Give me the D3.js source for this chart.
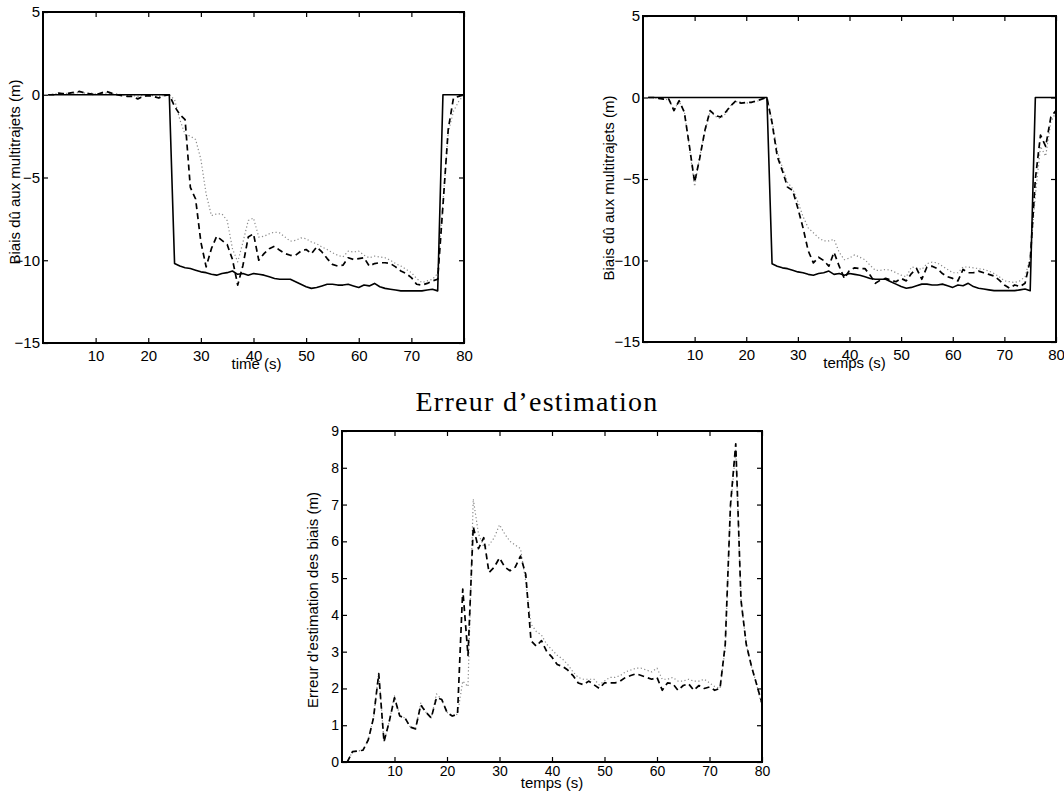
<!DOCTYPE html>
<html>
<head>
<meta charset="utf-8">
<script src="https://cdn.jsdelivr.net/npm/d3@7"></script>
<style>
  body { margin: 0; background: #fff; }
  svg text { font-family: "Liberation Sans", Arial, Helvetica, sans-serif; }
</style>
</head>
<body>
<div id="chart"></div>
<script>
// time axis (s)
const seconds = d3.range(1, 81);
const xTicks = [10, 20, 30, 40, 50, 60, 70, 80];
const biasTicks = [-15, -10, -5, 0, 5];
const errTicks = [0, 1, 2, 3, 4, 5, 6, 7, 8, 9];

// true multipath bias (solid), same in both upper plots
const trueBias = [
  0, 0, 0, 0, 0, 0, 0, 0, 0, 0,
  0, 0, 0, 0, 0, 0, 0, 0, 0, 0,
  0, 0, 0, 0, -10.2, -10.35, -10.45, -10.5, -10.6, -10.7,
  -10.75, -10.85, -10.9, -10.8, -10.75, -10.65, -10.85, -10.8, -10.9, -10.8,
  -10.85, -10.9, -11.0, -11.1, -11.15, -11.15, -11.15, -11.3, -11.45, -11.6,
  -11.7, -11.65, -11.55, -11.45, -11.45, -11.5, -11.5, -11.45, -11.55, -11.65,
  -11.5, -11.55, -11.4, -11.6, -11.7, -11.75, -11.8, -11.85, -11.85, -11.85,
  -11.85, -11.85, -11.8, -11.75, -11.85, 0, 0, 0, 0, 0
];

// upper left plot, estimates
const leftDashed = [
  0, 0, 0.1, 0.05, 0.1, 0.15, 0.2, 0.1, 0.05, 0,
  0.1, 0.2, 0.1, 0, -0.05, -0.1, -0.1, -0.25, -0.1, -0.05,
  -0.1, -0.2, -0.05, 0, -0.7, -1.2, -1.5, -5.6, -6.3, -8.9,
  -10.4, -9.3, -8.55, -8.8, -9.05, -9.95, -11.5, -10.3, -8.6, -8.4,
  -10.0, -9.6, -9.3, -9.15, -9.4, -9.6, -9.7, -9.7, -9.45, -9.35,
  -9.6, -9.2, -9.5, -9.9, -10.25, -10.35, -10.3, -9.85, -9.95, -9.9,
  -9.85, -10.35, -10.2, -10.15, -10.15, -10.2, -10.4, -10.65, -10.8, -11.05,
  -11.45, -11.5, -11.4, -11.25, -11.15, -6.7, -2.1, -0.2, -0.1, 0
];
const leftDotted = [
  0, 0.05, 0.05, 0.1, 0.05, 0.1, 0.15, 0.1, 0.1, 0.05,
  0.05, 0.1, 0.05, 0.05, 0, -0.05, -0.05, -0.1, -0.05, -0.05,
  -0.05, -0.1, -0.05, 0, -0.3, -1.5, -2.4, -2.5, -2.7, -3.9,
  -6.0, -7.3, -7.2, -7.2, -7.6, -9.3, -10.1, -8.9, -7.6, -7.45,
  -8.6, -8.55, -8.4, -8.3, -8.35, -8.6, -8.85, -8.8, -8.65, -8.7,
  -8.9, -9.0, -9.2, -9.35, -9.55, -9.7, -9.8, -9.45, -9.5, -9.45,
  -9.7, -9.85, -9.75, -9.8, -9.85, -10.0, -10.2, -10.35, -10.55, -10.75,
  -11.1, -11.35, -11.25, -11.15, -10.8, -6.5, -2.3, -1.0, -0.4, 0
];

// upper right plot, estimates
const rightDashed = [
  0, 0, -0.05, -0.1, -0.1, -0.8, -0.2, -0.9, -3.0, -5.2,
  -3.7, -2.0, -0.8, -1.1, -1.2, -0.9, -0.5, -0.2, -0.35, -0.3,
  -0.3, -0.2, -0.1, 0, -1.55, -3.6, -4.5, -5.5, -5.7, -6.8,
  -8.0, -9.4, -10.15, -9.8, -10.0, -10.35, -9.5, -10.35, -11.1, -10.6,
  -10.45, -10.5, -10.5, -10.9, -11.4, -11.2, -11.1, -11.2, -11.3, -11.1,
  -11.25, -10.8, -10.5, -11.15, -10.4, -10.35, -10.5, -10.8, -11.0, -11.1,
  -11.25, -10.55, -10.75, -10.75, -10.65, -10.75, -10.85, -10.95, -11.2, -11.5,
  -11.7, -11.5, -11.6, -11.4, -10.0, -5.0, -2.3, -3.0, -1.2, -0.8
];
const rightDotted = [
  0, 0, -0.05, -0.1, -0.15, -0.75, -0.25, -0.85, -3.1, -5.45,
  -3.6, -2.1, -0.85, -1.15, -1.3, -1.0, -0.5, -0.25, -0.3, -0.35,
  -0.3, -0.25, -0.1, 0, -1.4, -3.3, -4.3, -5.2, -5.6, -6.4,
  -7.3, -8.0, -8.3, -8.6, -8.8, -8.8, -8.7, -9.5, -9.95, -9.85,
  -9.65, -9.8, -9.95, -10.3, -10.6, -10.6, -10.55, -10.6, -10.75, -10.9,
  -11.0, -10.4, -10.45, -10.55, -10.2, -10.1, -10.15, -10.35, -10.55, -10.75,
  -10.75, -10.4, -10.4, -10.45, -10.5, -10.55, -10.65, -10.8, -11.0, -11.25,
  -11.3, -11.35, -11.25, -11.0, -9.8, -6.0, -3.0, -3.6, -1.5, -0.9
];

// lower plot, estimation error
const errDashed = [
  0.0, 0.28, 0.3, 0.32, 0.6, 1.2, 2.4, 0.55, 1.1, 1.75,
  1.25, 1.2, 0.95, 0.9, 1.55, 1.35, 1.2, 1.75, 1.7, 1.35,
  1.25, 1.3, 4.7, 2.9, 6.4, 5.8, 6.1, 5.15, 5.3, 5.55,
  5.3, 5.2, 5.3, 5.6, 5.1, 3.3, 3.15, 3.3, 3.0, 2.85,
  2.65, 2.6, 2.5, 2.35, 2.15, 2.1, 2.2, 2.1, 2.0, 2.15,
  2.15, 2.15, 2.2, 2.3, 2.35, 2.4, 2.35, 2.3, 2.25, 2.3,
  1.95, 2.15, 2.13, 1.95, 2.08, 2.13, 1.95, 2.08, 2.0, 2.04,
  1.95, 2.0, 3.2, 7.0, 8.65, 4.4, 3.2, 2.6, 2.1, 1.6
];
const errDotted = [
  0.0, 0.28, 0.3, 0.32, 0.6, 1.2, 2.45, 0.55, 1.1, 1.8,
  1.25, 1.2, 0.95, 0.9, 1.6, 1.35, 1.2, 1.85, 1.7, 1.35,
  1.25, 1.3, 2.2, 2.05, 7.15, 6.2, 5.85, 5.9, 6.1, 6.45,
  6.2, 6.0, 5.9, 5.8, 4.9, 3.75, 3.55, 3.45, 3.2, 3.05,
  2.9, 2.8, 2.65, 2.45, 2.3, 2.25, 2.25, 2.25, 2.1, 2.2,
  2.3, 2.3, 2.35, 2.45, 2.5, 2.55, 2.55, 2.5, 2.45, 2.55,
  2.25, 2.25, 2.3, 2.2, 2.2, 2.25, 2.2, 2.2, 2.25, 2.15,
  2.05, 2.0, 3.1, 6.9, 8.5, 4.4, 3.2, 2.6, 2.1, 1.5
];

const svg = d3.select('#chart').append('svg')
    .attr('width', 1064)
    .attr('height', 794);

const styles = {
    solid: {stroke: '#000', width: 1.6, dash: null},
    dashed: {stroke: '#000', width: 1.7, dash: '6,4'},
    dotted: {stroke: '#8a8a8a', width: 1.2, dash: '1.2,2.4'}
};

function drawPanel(p) {
    let x = d3.scaleLinear().domain([0, 80]).range([p.left, p.right]);
    let y = d3.scaleLinear().domain(p.yDomain).range([p.bottom, p.top]);
    let g = svg.append('g');

    // ticks, all inward like matlab
    g.append('g')
        .attr('transform', 'translate(0,' + p.bottom + ')')
        .call(d3.axisBottom(x).tickValues(xTicks).tickFormat(d3.format('d'))
            .tickSizeInner(-5).tickSizeOuter(0).tickPadding(p.xPad))
        .call(a => a.select('.domain').remove())
        .selectAll('text').style('font-size', p.tickFont + 'px');
    g.append('g')
        .attr('transform', 'translate(0,' + p.top + ')')
        .call(d3.axisTop(x).tickValues(xTicks).tickFormat('')
            .tickSizeInner(-5).tickSizeOuter(0))
        .call(a => a.select('.domain').remove());
    g.append('g')
        .attr('transform', 'translate(' + p.left + ',0)')
        .call(d3.axisLeft(y).tickValues(p.yTicks).tickFormat(d3.format('d'))
            .tickSizeInner(-5).tickSizeOuter(0).tickPadding(3))
        .call(a => a.select('.domain').remove())
        .selectAll('text').style('font-size', p.tickFont + 'px');
    g.append('g')
        .attr('transform', 'translate(' + p.right + ',0)')
        .call(d3.axisRight(y).tickValues(p.yTicks).tickFormat('')
            .tickSizeInner(-5).tickSizeOuter(0))
        .call(a => a.select('.domain').remove());
    g.selectAll('.tick line').attr('stroke', '#000').attr('stroke-width', 1.2);
    g.selectAll('.tick text').attr('fill', '#000');

    let line = d3.line()
        .x((d, i) => x(seconds[i]))
        .y(d => y(d));

    p.series.forEach(function (s) {
        let st = styles[s.kind];
        g.append('path')
            .datum(s.values)
            .attr('fill', 'none')
            .attr('stroke', st.stroke)
            .attr('stroke-width', st.width)
            .attr('stroke-dasharray', st.dash)
            .attr('stroke-linejoin', 'round')
            .attr('d', line);
    });

    g.append('rect')
        .attr('x', p.left).attr('y', p.top)
        .attr('width', p.right - p.left).attr('height', p.bottom - p.top)
        .attr('fill', 'none').attr('stroke', '#000').attr('stroke-width', 2);

    g.append('text')
        .attr('x', (p.left + p.right) / 2 + p.xLabelShift)
        .attr('y', p.xLabelY)
        .attr('text-anchor', 'middle')
        .style('font-size', p.labelFont + 'px')
        .text(p.xLabel);

    g.append('text')
        .attr('transform', 'translate(' + p.yLabelX + ',' + p.yLabelY + ') rotate(-90)')
        .attr('text-anchor', 'middle')
        .style('font-size', p.labelFont + 'px')
        .text(p.yLabel);
}

drawPanel({
    left: 43, right: 464, top: 12, bottom: 343,
    yDomain: [-15, 5], yTicks: biasTicks,
    tickFont: 15, labelFont: 15, xPad: 7,
    xLabel: 'time (s)', xLabelY: 369, xLabelShift: 3,
    yLabel: 'Biais dû aux multitrajets (m)', yLabelX: 20, yLabelY: 172,
    series: [
        {kind: 'dotted', values: leftDotted},
        {kind: 'dashed', values: leftDashed},
        {kind: 'solid', values: trueBias}
    ]
});

drawPanel({
    left: 643, right: 1056, top: 16, bottom: 342,
    yDomain: [-15, 5], yTicks: biasTicks,
    tickFont: 15, labelFont: 15, xPad: 7,
    xLabel: 'temps (s)', xLabelY: 368, xLabelShift: 5,
    yLabel: 'Biais dû aux multitrajets (m)', yLabelX: 614, yLabelY: 188,
    series: [
        {kind: 'dotted', values: rightDotted},
        {kind: 'dashed', values: rightDashed},
        {kind: 'solid', values: trueBias}
    ]
});

drawPanel({
    left: 342, right: 762, top: 431, bottom: 762,
    yDomain: [0, 9], yTicks: errTicks,
    tickFont: 14, labelFont: 15, xPad: 4.5,
    xLabel: 'temps (s)', xLabelY: 788, xLabelShift: 0,
    yLabel: 'Erreur d\u2019estimation des biais (m)', yLabelX: 318, yLabelY: 600,
    series: [
        {kind: 'dotted', values: errDotted},
        {kind: 'dashed', values: errDashed}
    ]
});

svg.append('text')
    .attr('x', 537)
    .attr('y', 411)
    .attr('text-anchor', 'middle')
    .style('font-family', '"Liberation Serif", "DejaVu Serif", serif')
    .style('font-size', '28px')
    .style('letter-spacing', '1.3px')
    .text('Erreur d\u2019estimation');
</script>
</body>
</html>
